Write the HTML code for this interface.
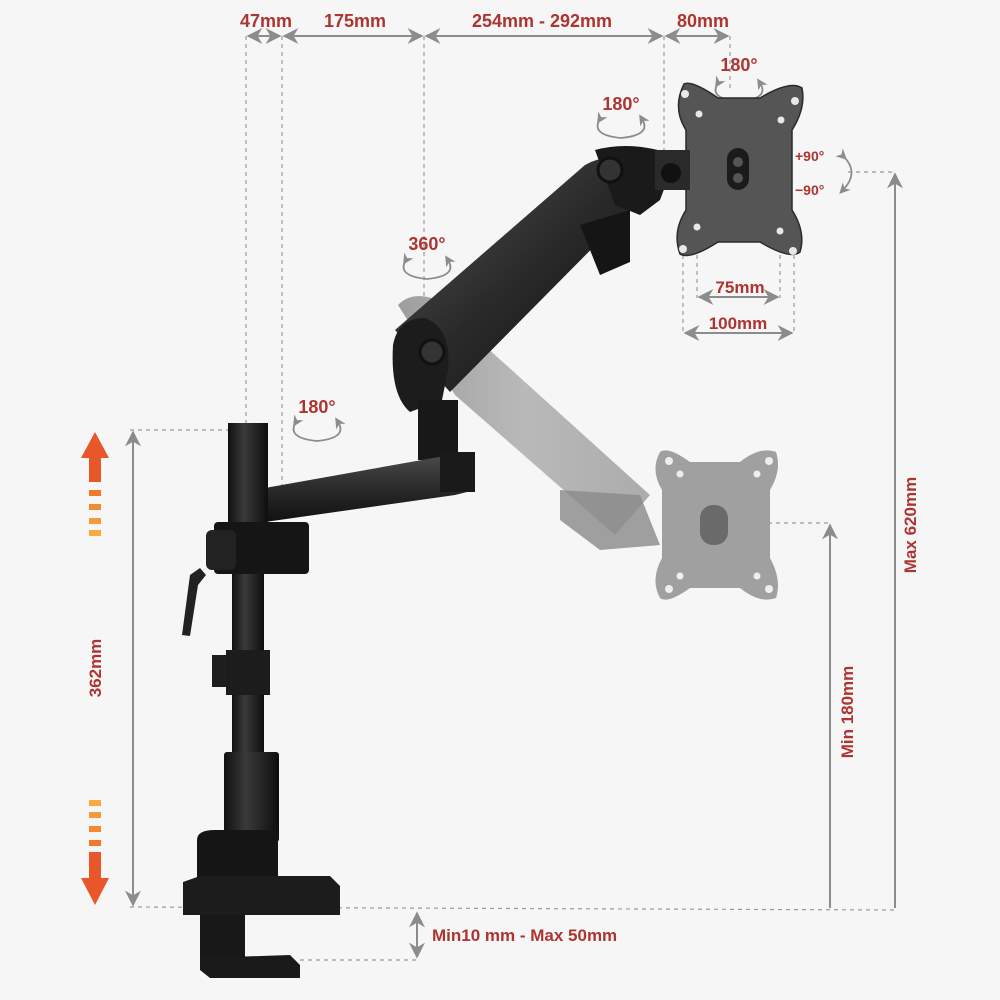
<!DOCTYPE html>
<html><head><meta charset="utf-8"><style>
html,body{margin:0;padding:0;background:#f6f6f6}
svg{display:block}
text{font-family:"Liberation Sans",sans-serif;font-weight:bold;fill:#ad3431}
</style></head><body>
<svg width="1000" height="1000" viewBox="0 0 1000 1000" xmlns="http://www.w3.org/2000/svg">
<defs>
<marker id="ah" viewBox="0 0 10 10" refX="9" refY="5" markerWidth="8" markerHeight="8" orient="auto-start-reverse"><path d="M0,0 L10,5 L0,10 L3,5z" fill="#8c8c8c"/></marker>
<marker id="sh" viewBox="0 0 10 10" refX="5" refY="5" markerWidth="6" markerHeight="6" orient="auto"><path d="M0,0 L10,5 L0,10 L3,5z" fill="#8c8c8c"/></marker>
<linearGradient id="arm" x1="0" y1="0" x2="0" y2="1"><stop offset="0" stop-color="#4a4a4a"/><stop offset="0.5" stop-color="#2a2a2a"/><stop offset="1" stop-color="#111"/></linearGradient>
<linearGradient id="arm2" x1="0" y1="0" x2="1" y2="1"><stop offset="0" stop-color="#555"/><stop offset="0.5" stop-color="#2a2a2a"/><stop offset="1" stop-color="#0f0f0f"/></linearGradient>
<linearGradient id="ghost" x1="0" y1="0" x2="1" y2="0"><stop offset="0" stop-color="#888"/><stop offset="0.5" stop-color="#aaa"/><stop offset="1" stop-color="#999"/></linearGradient>
<linearGradient id="pole" x1="0" y1="0" x2="1" y2="0"><stop offset="0" stop-color="#111"/><stop offset="0.4" stop-color="#3a3a3a"/><stop offset="1" stop-color="#0e0e0e"/></linearGradient>
</defs>

<g stroke="#9a9a9a" stroke-width="1.2" stroke-dasharray="4,4" fill="none">
<line x1="246" y1="36" x2="246" y2="423"/>
<line x1="282" y1="36" x2="282" y2="515"/>
<line x1="424" y1="36" x2="424" y2="300"/>
<line x1="664" y1="36" x2="664" y2="150"/>
<line x1="730" y1="36" x2="730" y2="92"/>
<line x1="130" y1="430" x2="232" y2="430"/>
<line x1="130" y1="907" x2="895" y2="910"/>
<line x1="300" y1="960" x2="417" y2="960"/>
<line x1="848" y1="172" x2="895" y2="172"/>
<line x1="760" y1="523" x2="830" y2="523"/>
<line x1="683" y1="255" x2="683" y2="333"/>
<line x1="697" y1="255" x2="697" y2="298"/>
<line x1="780" y1="255" x2="780" y2="298"/>
<line x1="794" y1="255" x2="794" y2="333"/>
</g>

<g stroke="#8c8c8c" stroke-width="2" fill="none">
<line x1="248" y1="36" x2="280" y2="36" marker-start="url(#ah)" marker-end="url(#ah)"/>
<line x1="284" y1="36" x2="422" y2="36" marker-start="url(#ah)" marker-end="url(#ah)"/>
<line x1="426" y1="36" x2="662" y2="36" marker-start="url(#ah)" marker-end="url(#ah)"/>
<line x1="666" y1="36" x2="728" y2="36" marker-start="url(#ah)" marker-end="url(#ah)"/>
<line x1="133" y1="432" x2="133" y2="905" marker-start="url(#ah)" marker-end="url(#ah)"/>
<line x1="895" y1="174" x2="895" y2="908" marker-start="url(#ah)"/>
<line x1="830" y1="525" x2="830" y2="908" marker-start="url(#ah)"/>
<line x1="417" y1="913" x2="417" y2="957" marker-start="url(#ah)" marker-end="url(#ah)"/>
<line x1="699" y1="297" x2="778" y2="297" marker-start="url(#ah)" marker-end="url(#ah)"/>
<line x1="685" y1="333" x2="792" y2="333" marker-start="url(#ah)" marker-end="url(#ah)"/>
</g>

<g stroke="#8c8c8c" stroke-width="1.8" fill="none">
<path d="M406,260 Q396,276 427,279 Q458,276 448,260" marker-start="url(#sh)" marker-end="url(#sh)"/>
<path d="M296,422 Q286,438 317,441 Q348,438 338,422" marker-start="url(#sh)" marker-end="url(#sh)"/>
<path d="M600,119 Q590,135 621,138 Q652,135 642,119" marker-start="url(#sh)" marker-end="url(#sh)"/>
<path d="M718,83 Q708,99 739,101 Q770,99 760,83" marker-start="url(#sh)" marker-end="url(#sh)"/>
<path d="M843,156 Q860,172 843,190" marker-start="url(#sh)" marker-end="url(#sh)"/>
</g>

<g font-size="18">
<text x="266" y="27" text-anchor="middle">47mm</text>
<text x="355" y="27" text-anchor="middle">175mm</text>
<text x="542" y="27" text-anchor="middle">254mm - 292mm</text>
<text x="703" y="27" text-anchor="middle">80mm</text>
<text x="739" y="71" text-anchor="middle">180°</text>
<text x="621" y="110" text-anchor="middle">180°</text>
<text x="427" y="250" text-anchor="middle">360°</text>
<text x="317" y="413" text-anchor="middle">180°</text>
<text x="740" y="293" text-anchor="middle" font-size="17">75mm</text>
<text x="738" y="329" text-anchor="middle" font-size="17">100mm</text>
<text x="432" y="941" font-size="17">Min10 mm - Max 50mm</text>
<text x="795" y="161" font-size="14">+90°</text>
<text x="795" y="195" font-size="14">−90°</text>
<text transform="translate(101,668) rotate(-90)" text-anchor="middle" font-size="17">362mm</text>
<text transform="translate(916,525) rotate(-90)" text-anchor="middle" font-size="17">Max 620mm</text>
<text transform="translate(853,712) rotate(-90)" text-anchor="middle" font-size="17">Min 180mm</text>
</g>

<g fill="#e8572a">
<polygon points="95,432 81,458 89,458 89,482 101,482 101,458 109,458"/>
<rect x="89" y="490" width="12" height="6" fill="#f07a2a"/>
<rect x="89" y="504" width="12" height="6" fill="#f28a30"/>
<rect x="89" y="518" width="12" height="6" fill="#f59a38"/>
<rect x="89" y="530" width="12" height="6" fill="#f7aa40"/>
<rect x="89" y="800" width="12" height="6" fill="#f7aa40"/>
<rect x="89" y="812" width="12" height="6" fill="#f59a38"/>
<rect x="89" y="826" width="12" height="6" fill="#f28a30"/>
<rect x="89" y="840" width="12" height="6" fill="#f07a2a"/>
<polygon points="95,905 81,878 89,878 89,852 101,852 101,878 109,878"/>
</g>

<!-- ghost arm -->
<path d="M398,305 Q410,292 432,298 L650,495 L615,535 L455,395 Z" fill="url(#ghost)" opacity="0.8"/>
<path d="M560,490 L640,495 L660,545 L600,550 L560,520 Z" fill="#8a8a8a" opacity="0.8"/>
<path d="M660,452 Q668,446 690,462 L740,462 Q760,446 776,452 Q782,470 770,490 L770,558 Q782,580 776,598 Q760,604 740,588 L690,588 Q668,604 660,598 Q650,580 662,558 L662,490 Q650,470 660,452 Z" fill="#a0a0a0"/>
<rect x="700" y="505" width="28" height="40" rx="13" fill="#6a6a6a"/>
<g fill="#eee"><circle cx="669" cy="461" r="4"/><circle cx="769" cy="461" r="4"/><circle cx="669" cy="589" r="4"/><circle cx="769" cy="589" r="4"/><circle cx="680" cy="474" r="3.5"/><circle cx="757" cy="474" r="3.5"/><circle cx="680" cy="576" r="3.5"/><circle cx="757" cy="576" r="3.5"/></g>

<!-- upper plate -->
<path d="M684,84 Q692,80 718,98 L760,98 Q790,80 802,88 Q806,108 792,130 L792,210 Q806,232 800,252 Q790,260 760,242 L718,242 Q690,260 680,254 Q672,232 686,210 L686,130 Q672,108 684,84 Z" fill="#555" stroke="#2a2a2a" stroke-width="1.5"/>
<rect x="727" y="148" width="22" height="42" rx="11" fill="#1b1b1b"/>
<circle cx="738" cy="162" r="5" fill="#555"/><circle cx="738" cy="178" r="5" fill="#555"/>
<g fill="#e8e8e8"><circle cx="685" cy="94" r="4"/><circle cx="795" cy="101" r="4"/><circle cx="683" cy="249" r="4"/><circle cx="793" cy="251" r="4"/><circle cx="699" cy="114" r="3.5"/><circle cx="781" cy="120" r="3.5"/><circle cx="697" cy="227" r="3.5"/><circle cx="780" cy="231" r="3.5"/></g>

<!-- upper arm -->
<path d="M395,330 L585,165 Q610,150 630,170 L640,200 L450,392 Z" fill="url(#arm2)"/>
<path d="M595,150 Q625,142 658,150 L672,168 L660,200 L640,215 L615,205 Z" fill="#1a1a1a"/>
<rect x="655" y="150" width="35" height="40" fill="#2a2a2a"/>
<path d="M580,225 L630,210 L630,262 L600,275 Z" fill="#151515"/>
<circle cx="610" cy="170" r="12" fill="#333" stroke="#111" stroke-width="3"/>
<circle cx="671" cy="173" r="10" fill="#111"/>
<path d="M393,345 Q398,318 425,318 Q452,328 448,370 L442,400 L410,412 Q390,395 393,345 Z" fill="#1c1c1c"/>
<circle cx="432" cy="352" r="12" fill="#333" stroke="#111" stroke-width="3"/>
<rect x="418" y="400" width="40" height="60" fill="#181818"/>
<!-- lower arm -->
<path d="M265,488 L450,455 L475,462 L475,490 L455,495 L265,522 Z" fill="url(#arm)"/>
<rect x="440" y="452" width="35" height="40" fill="#1a1a1a"/>
<!-- pole -->
<rect x="228" y="423" width="40" height="120" fill="url(#pole)"/>
<rect x="232" y="540" width="32" height="300" fill="url(#pole)"/>
<rect x="214" y="522" width="95" height="52" rx="4" fill="#151515"/>
<rect x="206" y="530" width="30" height="40" rx="6" fill="#222"/>
<path d="M200,568 L190,575 L182,635 L190,636 L198,585 L206,575 Z" fill="#222"/>
<rect x="212" y="655" width="16" height="32" fill="#1e1e1e"/>
<rect x="226" y="650" width="44" height="45" fill="#1c1c1c"/>
<rect x="224" y="752" width="55" height="90" rx="3" fill="url(#pole)"/>
<path d="M197,840 Q197,830 215,830 L278,830 L278,900 L197,900 Z" fill="#151515"/>
<path d="M183,882 L200,876 L330,876 L340,886 L340,915 L183,915 Z" fill="#1c1c1c"/>
<rect x="200" y="915" width="45" height="50" fill="#181818"/>
<path d="M200,958 L290,955 L300,965 L300,978 L210,978 L200,970 Z" fill="#1a1a1a"/>
</svg>
</body></html>
